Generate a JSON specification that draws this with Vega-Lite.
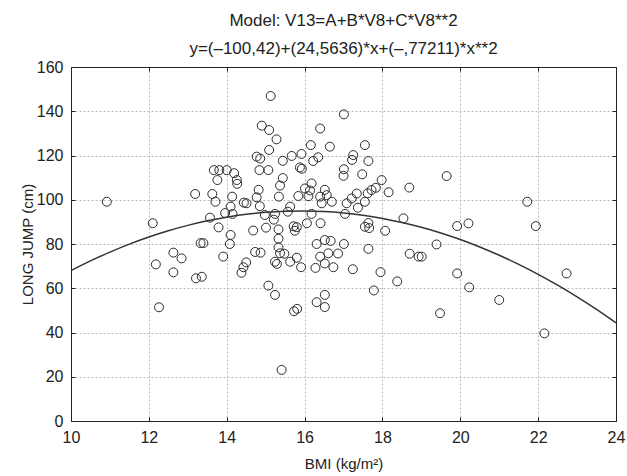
{
  "$schema": "https://vega.github.io/schema/vega-lite/v6.json",
  "width": 545,
  "height": 354,
  "autosize": {"type": "none"},
  "padding": {"left": 71, "top": 67, "right": 11, "bottom": 55},
  "background": "white",
  "config": {
    "font": "Liberation Sans",
    "view": {"stroke": "#222", "strokeWidth": 1}
  },
  "title": {
    "text": ["Model: V13=A+B*V8+C*V8**2", "y=(–100,42)+(24,5636)*x+(–,77211)*x**2"],
    "fontSize": 17,
    "fontWeight": "normal",
    "font": "Liberation Sans",
    "color": "#222",
    "lineHeight": 28,
    "anchor": "middle",
    "offset": 1
  },
  "datasets": {
    "pts": [
      {"bmi": 10.92, "jump": 99.1}, {"bmi": 12.10, "jump": 89.4}, {"bmi": 12.18, "jump": 70.8}, {"bmi": 12.26, "jump": 51.4},
      {"bmi": 12.63, "jump": 76.1}, {"bmi": 12.84, "jump": 73.5}, {"bmi": 12.63, "jump": 67.2}, {"bmi": 13.21, "jump": 64.5},
      {"bmi": 13.36, "jump": 65.2}, {"bmi": 13.19, "jump": 102.6}, {"bmi": 13.33, "jump": 80.4}, {"bmi": 13.40, "jump": 80.4},
      {"bmi": 13.57, "jump": 91.9}, {"bmi": 13.63, "jump": 102.6}, {"bmi": 13.71, "jump": 99.1}, {"bmi": 13.67, "jump": 113.4},
      {"bmi": 13.81, "jump": 113.4}, {"bmi": 13.76, "jump": 108.9}, {"bmi": 14.00, "jump": 113.4}, {"bmi": 14.19, "jump": 112.0},
      {"bmi": 14.26, "jump": 108.9}, {"bmi": 14.27, "jump": 107.2}, {"bmi": 14.14, "jump": 101.4}, {"bmi": 14.10, "jump": 96.9},
      {"bmi": 13.96, "jump": 94.0}, {"bmi": 14.15, "jump": 93.6}, {"bmi": 13.79, "jump": 87.5}, {"bmi": 14.10, "jump": 84.1},
      {"bmi": 14.08, "jump": 80.0}, {"bmi": 13.91, "jump": 74.3}, {"bmi": 14.44, "jump": 98.7}, {"bmi": 14.51, "jump": 98.4},
      {"bmi": 14.50, "jump": 71.7}, {"bmi": 14.43, "jump": 69.5}, {"bmi": 14.38, "jump": 67.0}, {"bmi": 14.68, "jump": 86.1},
      {"bmi": 14.73, "jump": 76.4}, {"bmi": 14.87, "jump": 76.1}, {"bmi": 15.07, "jump": 61.2}, {"bmi": 14.77, "jump": 119.5},
      {"bmi": 14.86, "jump": 118.6}, {"bmi": 14.84, "jump": 113.4}, {"bmi": 14.82, "jump": 104.5}, {"bmi": 14.77, "jump": 101.1},
      {"bmi": 14.85, "jump": 97.1}, {"bmi": 14.90, "jump": 133.5}, {"bmi": 15.09, "jump": 131.5}, {"bmi": 15.13, "jump": 146.9},
      {"bmi": 15.28, "jump": 127.3}, {"bmi": 15.09, "jump": 122.5}, {"bmi": 15.44, "jump": 117.6}, {"bmi": 15.67, "jump": 119.8},
      {"bmi": 15.92, "jump": 120.7}, {"bmi": 16.35, "jump": 119.2}, {"bmi": 16.22, "jump": 117.5}, {"bmi": 16.40, "jump": 132.2},
      {"bmi": 16.16, "jump": 124.7}, {"bmi": 16.65, "jump": 124.0}, {"bmi": 17.55, "jump": 124.7}, {"bmi": 17.01, "jump": 138.6},
      {"bmi": 15.07, "jump": 113.4}, {"bmi": 15.88, "jump": 114.6}, {"bmi": 15.93, "jump": 114.0}, {"bmi": 17.01, "jump": 113.8},
      {"bmi": 17.00, "jump": 110.8}, {"bmi": 17.48, "jump": 111.5}, {"bmi": 17.25, "jump": 120.2}, {"bmi": 17.22, "jump": 118.0},
      {"bmi": 17.64, "jump": 117.5}, {"bmi": 19.65, "jump": 110.7}, {"bmi": 15.44, "jump": 109.8}, {"bmi": 15.37, "jump": 106.4},
      {"bmi": 15.34, "jump": 101.4}, {"bmi": 16.01, "jump": 105.1}, {"bmi": 16.18, "jump": 107.4}, {"bmi": 16.14, "jump": 104.2},
      {"bmi": 16.10, "jump": 101.6}, {"bmi": 16.52, "jump": 104.5}, {"bmi": 16.57, "jump": 102.1}, {"bmi": 16.40, "jump": 101.4},
      {"bmi": 16.44, "jump": 98.4}, {"bmi": 16.70, "jump": 99.1}, {"bmi": 15.63, "jump": 96.9}, {"bmi": 15.84, "jump": 101.7},
      {"bmi": 15.57, "jump": 94.6}, {"bmi": 17.08, "jump": 98.4}, {"bmi": 17.21, "jump": 100.6}, {"bmi": 17.34, "jump": 102.8},
      {"bmi": 17.62, "jump": 102.9}, {"bmi": 17.72, "jump": 104.4}, {"bmi": 17.83, "jump": 105.4}, {"bmi": 17.98, "jump": 108.9},
      {"bmi": 18.16, "jump": 103.4}, {"bmi": 17.37, "jump": 96.4}, {"bmi": 17.55, "jump": 99.1}, {"bmi": 17.04, "jump": 93.6},
      {"bmi": 18.69, "jump": 105.5}, {"bmi": 16.18, "jump": 93.6}, {"bmi": 14.98, "jump": 93.1}, {"bmi": 15.24, "jump": 93.6},
      {"bmi": 15.21, "jump": 91.0}, {"bmi": 15.01, "jump": 87.4}, {"bmi": 15.33, "jump": 86.6}, {"bmi": 15.33, "jump": 82.4},
      {"bmi": 15.72, "jump": 88.0}, {"bmi": 15.80, "jump": 87.6}, {"bmi": 15.75, "jump": 86.0}, {"bmi": 16.06, "jump": 89.4},
      {"bmi": 16.41, "jump": 89.4}, {"bmi": 17.64, "jump": 89.5}, {"bmi": 17.55, "jump": 87.8}, {"bmi": 17.66, "jump": 87.2},
      {"bmi": 18.07, "jump": 86.0}, {"bmi": 18.54, "jump": 91.6}, {"bmi": 19.39, "jump": 79.8}, {"bmi": 16.31, "jump": 80.0},
      {"bmi": 16.52, "jump": 81.8}, {"bmi": 16.67, "jump": 81.4}, {"bmi": 17.01, "jump": 80.0}, {"bmi": 17.64, "jump": 77.8},
      {"bmi": 16.86, "jump": 75.7}, {"bmi": 18.70, "jump": 75.6}, {"bmi": 18.93, "jump": 74.3}, {"bmi": 19.01, "jump": 74.3},
      {"bmi": 15.33, "jump": 78.5}, {"bmi": 15.37, "jump": 75.8}, {"bmi": 15.48, "jump": 75.6}, {"bmi": 15.24, "jump": 72.0},
      {"bmi": 15.29, "jump": 71.0}, {"bmi": 15.63, "jump": 72.0}, {"bmi": 15.80, "jump": 73.8}, {"bmi": 15.91, "jump": 69.5},
      {"bmi": 16.28, "jump": 69.2}, {"bmi": 16.40, "jump": 74.3}, {"bmi": 16.52, "jump": 71.2}, {"bmi": 16.61, "jump": 75.8},
      {"bmi": 16.74, "jump": 69.5}, {"bmi": 17.24, "jump": 68.6}, {"bmi": 17.95, "jump": 67.3}, {"bmi": 17.78, "jump": 59.0},
      {"bmi": 18.38, "jump": 63.1}, {"bmi": 19.48, "jump": 48.7}, {"bmi": 15.24, "jump": 57.0}, {"bmi": 15.73, "jump": 49.6},
      {"bmi": 15.81, "jump": 50.7}, {"bmi": 16.31, "jump": 53.7}, {"bmi": 16.52, "jump": 57.0}, {"bmi": 16.52, "jump": 51.5},
      {"bmi": 15.41, "jump": 23.1}, {"bmi": 19.92, "jump": 66.7}, {"bmi": 20.23, "jump": 60.4}, {"bmi": 21.00, "jump": 54.7},
      {"bmi": 22.16, "jump": 39.6}, {"bmi": 22.73, "jump": 66.7}, {"bmi": 19.92, "jump": 88.1}, {"bmi": 20.21, "jump": 89.3},
      {"bmi": 21.72, "jump": 99.1}, {"bmi": 21.94, "jump": 88.1}
    ],
    "fit": [
      {"bmi": 10, "fit": 68.0}, {"bmi": 10.5, "fit": 72.37}, {"bmi": 11, "fit": 76.35}, {"bmi": 11.5, "fit": 79.95},
      {"bmi": 12, "fit": 83.16}, {"bmi": 12.5, "fit": 85.98}, {"bmi": 13, "fit": 88.42}, {"bmi": 13.5, "fit": 90.47},
      {"bmi": 14, "fit": 92.14}, {"bmi": 14.5, "fit": 93.42}, {"bmi": 15, "fit": 94.31}, {"bmi": 15.5, "fit": 94.82},
      {"bmi": 16, "fit": 94.94}, {"bmi": 16.5, "fit": 94.67}, {"bmi": 17, "fit": 94.02}, {"bmi": 17.5, "fit": 92.98},
      {"bmi": 18, "fit": 91.56}, {"bmi": 18.5, "fit": 89.75}, {"bmi": 19, "fit": 87.56}, {"bmi": 19.5, "fit": 84.98},
      {"bmi": 20, "fit": 82.01}, {"bmi": 20.5, "fit": 78.65}, {"bmi": 21, "fit": 74.92}, {"bmi": 21.5, "fit": 70.79},
      {"bmi": 22, "fit": 66.28}, {"bmi": 22.5, "fit": 61.38}, {"bmi": 23, "fit": 56.10}, {"bmi": 23.5, "fit": 50.43},
      {"bmi": 24, "fit": 44.37}
    ]
  },
  "resolve": {"axis": {"x": "independent", "y": "independent"}},
  "layer": [
    {
      "data": {"name": "pts"},
      "mark": {"type": "point", "shape": "circle", "filled": false, "size": 80, "stroke": "#2a2a2a", "strokeWidth": 1, "opacity": 1},
      "encoding": {
        "x": {
          "field": "bmi", "type": "quantitative",
          "scale": {"domain": [10, 24], "nice": false, "zero": false},
          "axis": {
            "orient": "bottom", "values": [10, 12, 14, 16, 18, 20, 22, 24], "title": "BMI (kg/m²)",
            "labelFontSize": 16, "labelColor": "#222", "labelFlush": false, "labelPadding": 12,
            "tickSize": -4, "tickColor": "#222", "domainColor": "#222",
            "grid": true, "gridColor": "#bbb", "gridDash": [2, 2],
            "titleFontSize": 15, "titleFontWeight": "normal", "titleColor": "#222", "titlePadding": 11
          }
        },
        "y": {
          "field": "jump", "type": "quantitative",
          "scale": {"domain": [0, 160], "nice": false, "zero": false},
          "axis": {
            "orient": "left", "values": [0, 20, 40, 60, 80, 100, 120, 140, 160], "title": "LONG JUMP (cm)",
            "labelFontSize": 16, "labelColor": "#222", "labelFlush": false, "labelPadding": 12,
            "tickSize": -4, "tickColor": "#222", "domainColor": "#222",
            "grid": true, "gridColor": "#bbb", "gridDash": [2, 2],
            "titleFontSize": 15, "titleFontWeight": "normal", "titleColor": "#222", "titlePadding": 1
          }
        }
      }
    },
    {
      "data": {"name": "fit"},
      "mark": {"type": "line", "color": "#333", "strokeWidth": 1.5, "interpolate": "monotone"},
      "encoding": {
        "x": {
          "field": "bmi", "type": "quantitative",
          "scale": {"domain": [10, 24], "nice": false, "zero": false},
          "axis": {"orient": "top", "values": [10, 12, 14, 16, 18, 20, 22, 24], "title": null, "labels": false, "grid": false, "tickSize": -4, "tickColor": "#222", "domainColor": "#222"}
        },
        "y": {
          "field": "fit", "type": "quantitative",
          "scale": {"domain": [0, 160], "nice": false, "zero": false},
          "axis": {"orient": "right", "values": [0, 20, 40, 60, 80, 100, 120, 140, 160], "title": null, "labels": false, "grid": false, "tickSize": -4, "tickColor": "#222", "domainColor": "#222"}
        }
      }
    }
  ]
}
